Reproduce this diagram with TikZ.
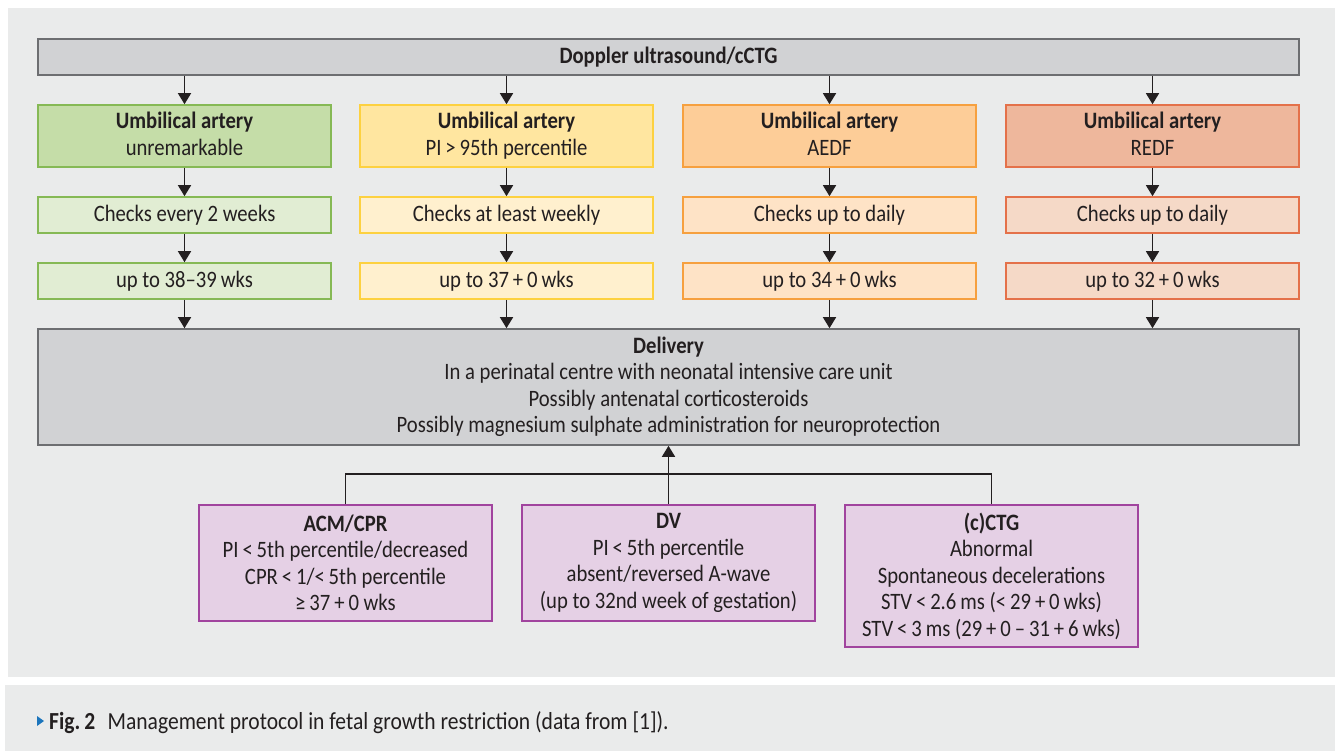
\documentclass[tikz,border=0pt]{standalone}
\usepackage{fontspec}
\setmainfont{Carlito}[FakeStretch=0.88]
\usepackage{xcolor}
\usetikzlibrary{arrows.meta}

\definecolor{panelgrey}{HTML}{EAEBEB}
\definecolor{greyfill}{HTML}{D1D2D4}
\definecolor{greyline}{HTML}{6D6E71}
\definecolor{textdark}{HTML}{231F20}
\definecolor{greenhead}{HTML}{C5DDA8}
\definecolor{greenlight}{HTML}{E1EDD3}
\definecolor{greenline}{HTML}{86B955}
\definecolor{yellowhead}{HTML}{FFE6A0}
\definecolor{yellowlight}{HTML}{FFF0CE}
\definecolor{yellowline}{HTML}{FDD140}
\definecolor{orangehead}{HTML}{FDCD98}
\definecolor{orangelight}{HTML}{FEE3C6}
\definecolor{orangeline}{HTML}{F6A03F}
\definecolor{salmonhead}{HTML}{EEB79C}
\definecolor{salmonlight}{HTML}{F5D9C7}
\definecolor{salmonline}{HTML}{E4714A}
\definecolor{purplefill}{HTML}{E5D0E5}
\definecolor{purpleline}{HTML}{A1449E}
\definecolor{captionblue}{HTML}{1C75BC}

\tikzset{
  box/.style={draw, line width=1.6pt, minimum width=293pt, inner sep=0pt,
    align=center, text=textdark, font=\fontsize{23.5}{26.5}\selectfont},
  greybox/.style={box, draw=greyline, fill=greyfill, minimum width=1261pt},
  headbox/.style={box, minimum height=62pt},
  smallbox/.style={box, minimum height=36pt},
  findbox/.style={box, draw=purpleline, fill=purplefill},
  arr/.style={line width=1.5pt, draw=textdark,
    -{Triangle[width=13pt,length=11pt]}},
  link/.style={line width=1.5pt, draw=textdark}
}

\begin{document}
\begin{tikzpicture}[x=1pt,y=-1pt]
  \useasboundingbox (0,0) rectangle (1335,751);
  \fill[panelgrey] (8,8) rectangle (1335,677);
  \fill[panelgrey] (5,685) rectangle (1335,751);

  % top
  \node[greybox, minimum height=36pt] (doppler) at (668.5,57) {\textbf{Doppler ultrasound/cCTG}};

  % umbilical artery columns
  \node[headbox, fill=greenhead, draw=greenline] (uaA) at (184.5,136) {\textbf{Umbilical artery}\\unremarkable\vphantom{g}};
  \node[headbox, fill=yellowhead, draw=yellowline] (uaB) at (506.5,136) {\textbf{Umbilical artery}\\PI\,>\,95th percentile\vphantom{g}};
  \node[headbox, fill=orangehead, draw=orangeline] (uaC) at (829.5,136) {\textbf{Umbilical artery}\\AEDF\vphantom{g}};
  \node[headbox, fill=salmonhead, draw=salmonline] (uaD) at (1152.5,136) {\textbf{Umbilical artery}\\REDF\vphantom{g}};

  \node[smallbox, fill=greenlight, draw=greenline] (chkA) at (184.5,215) {Checks every 2 weeks};
  \node[smallbox, fill=yellowlight, draw=yellowline] (chkB) at (506.5,215) {Checks at least weekly};
  \node[smallbox, fill=orangelight, draw=orangeline] (chkC) at (829.5,215) {Checks up to daily};
  \node[smallbox, fill=salmonlight, draw=salmonline] (chkD) at (1152.5,215) {Checks up to daily};

  \node[smallbox, fill=greenlight, draw=greenline] (wksA) at (184.5,281) {up to 38--39\,wks};
  \node[smallbox, fill=yellowlight, draw=yellowline] (wksB) at (506.5,281) {up to 37\,+\,0\,wks};
  \node[smallbox, fill=orangelight, draw=orangeline] (wksC) at (829.5,281) {up to 34\,+\,0\,wks};
  \node[smallbox, fill=salmonlight, draw=salmonline] (wksD) at (1152.5,281) {up to 32\,+\,0\,wks};

  % delivery
  \node[greybox, minimum height=116pt] (delivery) at (668.5,387) {\textbf{Delivery}\\In a perinatal centre with neonatal intensive care unit\\Possibly antenatal corticosteroids\\Possibly magnesium sulphate administration for neuroprotection};

  % findings
  \node[findbox, minimum height=116pt] (acm) at (345.5,563) {\textbf{ACM/CPR}\\PI\,<\,5th percentile/decreased\\CPR\,<\,1/<\,5th percentile\\≥\,37\,+\,0 wks};
  \node[findbox, minimum height=116pt] (dv) at (668.5,563) {\textbf{DV}\\PI\,<\,5th percentile\\absent/reversed A-wave\\(up to 32nd week of gestation)};
  \node[findbox, minimum height=142pt] (ctg) at (991.5,576) {\textbf{(c)CTG}\\Abnormal\\Spontaneous decelerations\\STV\,<\,2.6\,ms (<\,29\,+\,0\,wks)\\STV\,<\,3\,ms (29\,+\,0\,--\,31\,+\,6\,wks)};
  \coordinate (join) at (668.5,474);

  % arrows
  \draw[arr] (doppler.south -| uaA.north) -- (uaA.north);
  \draw[arr] (doppler.south -| uaB.north) -- (uaB.north);
  \draw[arr] (doppler.south -| uaC.north) -- (uaC.north);
  \draw[arr] (doppler.south -| uaD.north) -- (uaD.north);
  \draw[arr] (uaA) -- (chkA);
  \draw[arr] (uaB) -- (chkB);
  \draw[arr] (uaC) -- (chkC);
  \draw[arr] (uaD) -- (chkD);
  \draw[arr] (chkA) -- (wksA);
  \draw[arr] (chkB) -- (wksB);
  \draw[arr] (chkC) -- (wksC);
  \draw[arr] (chkD) -- (wksD);
  \draw[arr] (wksA.south) -- (delivery.north -| wksA.south);
  \draw[arr] (wksB.south) -- (delivery.north -| wksB.south);
  \draw[arr] (wksC.south) -- (delivery.north -| wksC.south);
  \draw[arr] (wksD.south) -- (delivery.north -| wksD.south);
  \draw[link] (acm.north) |- (join) -| (ctg.north);
  \draw[arr] (dv.north) -- (delivery.south -| dv.north);

  % caption
  \fill[captionblue] (37,716) -- (44,721) -- (37,726) -- cycle;
  \node[anchor=base west, inner sep=0pt, text=textdark, font=\fontsize{24.5}{26}\selectfont] (caption) at (49,729) {\textbf{Fig.\,2}\enspace Management protocol in fetal growth restriction (data from [1]).};
\end{tikzpicture}
\end{document}
